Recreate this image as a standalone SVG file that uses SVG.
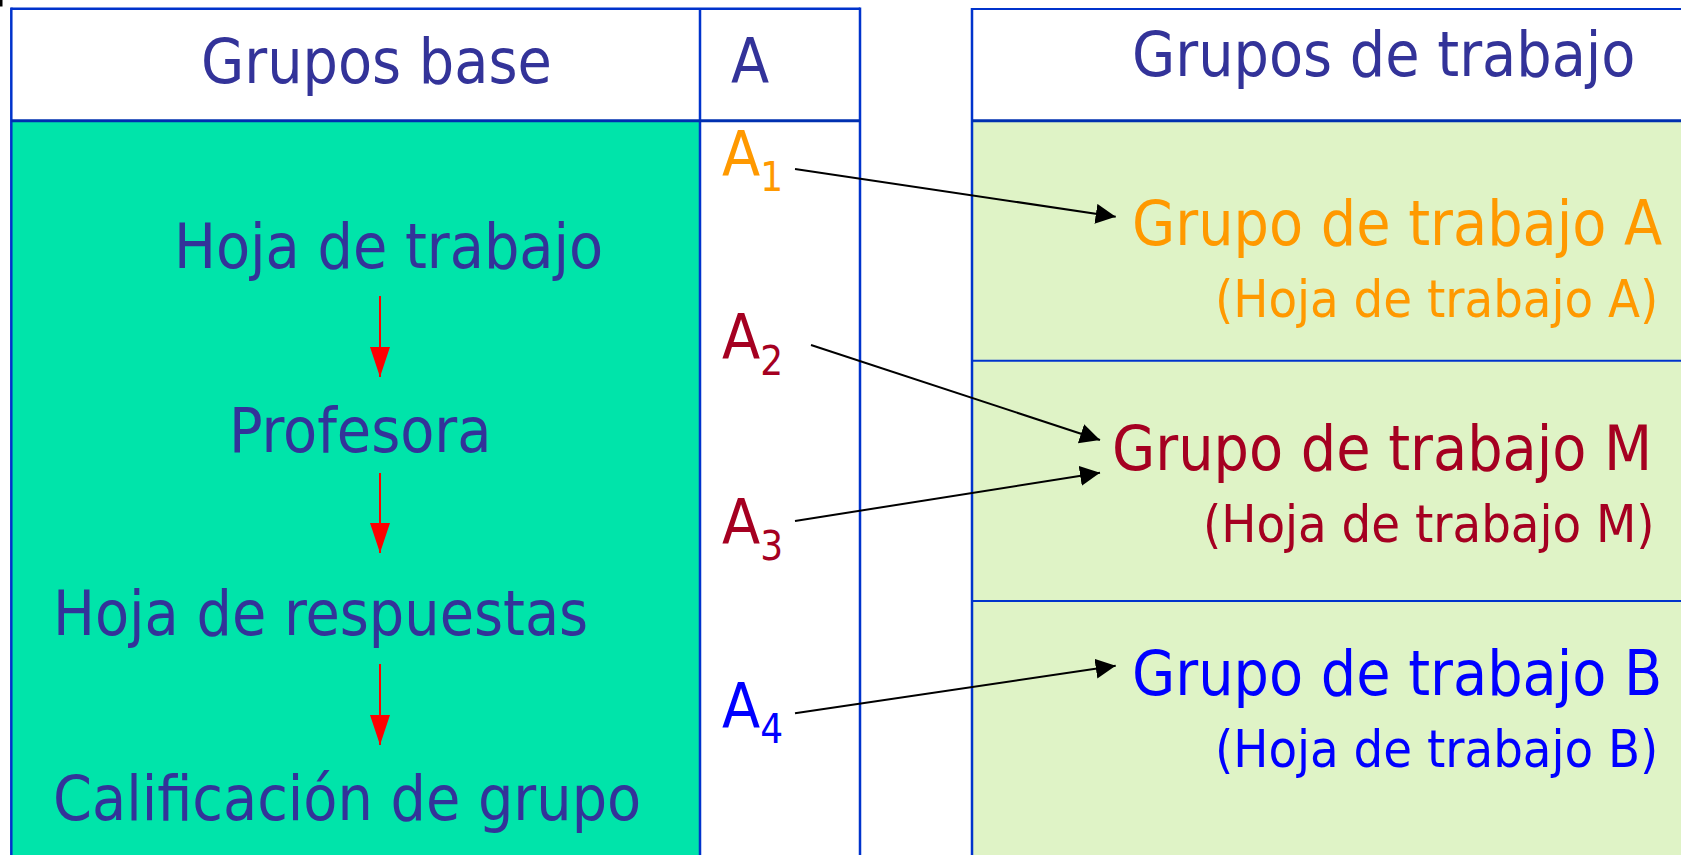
<svg xmlns="http://www.w3.org/2000/svg" width="1681" height="855" viewBox="0 0 1681 855">
<style>
text{font-family:"DejaVu Sans Condensed","DejaVu Sans",sans-serif;font-stretch:condensed;}
.big{font-size:62px;}
.sub{font-size:52px;}
.idx{font-size:40px;}
.hdr{fill:#333399;}
.lt{fill:#333399;}
.org{fill:#FF9900;}
.red{fill:#A50021;}
.blu{fill:#0000FF;}
.bl{stroke:#0033CC;stroke-width:2.5;fill:none;}
.bl2{stroke:#0030B0;stroke-width:3;fill:none;}
.conn{stroke:#000;stroke-width:2;fill:none;marker-end:url(#ah);}
.rconn{stroke:#FF0000;stroke-width:2;fill:none;marker-end:url(#rh);}
</style>
<defs>
<marker id="ah" markerUnits="userSpaceOnUse" markerWidth="22" markerHeight="22" refX="20" refY="10" orient="auto" viewBox="0 0 22 22">
<path d="M0,0 L20,10 L0,20 z" fill="#000"/>
</marker>
<marker id="rh" markerUnits="userSpaceOnUse" markerWidth="32" markerHeight="22" refX="30" refY="10" orient="auto" viewBox="0 0 32 22">
<path d="M0,0 L30,10 L0,20 z" fill="#FF0000"/>
</marker>
</defs>
<rect x="0" y="0" width="1681" height="855" fill="#FFFFFF"/>
<rect x="0" y="0" width="2.5" height="6.5" fill="#000"/>

<g id="left-table">
<rect x="11" y="121" width="689" height="740" fill="#00E4AA"/>
<line class="bl" x1="11.3" y1="8.7" x2="860" y2="8.7"/>
<line class="bl" x1="11.3" y1="7.5" x2="11.3" y2="855"/>
<line class="bl" x1="860" y1="7.5" x2="860" y2="855"/>
<line class="bl" x1="700" y1="8.7" x2="700" y2="855"/>
<line class="bl2" x1="11.3" y1="120.7" x2="860" y2="120.7"/>
</g>

<g id="right-table">
<rect x="972" y="121" width="709" height="740" fill="#DFF3C6"/>
<line class="bl" x1="972" y1="9" x2="1681" y2="9" style="stroke-width:1.8"/>
<line class="bl" x1="972" y1="8" x2="972" y2="855"/>
<line class="bl2" x1="972" y1="120.7" x2="1681" y2="120.7"/>
<line class="bl" x1="972" y1="360.7" x2="1681" y2="360.7" style="stroke-width:2"/>
<line class="bl" x1="972" y1="601" x2="1681" y2="601" style="stroke-width:2"/>
</g>

<g id="header-grupos-base"><text class="big hdr" x="201" y="83">Grupos base</text></g>
<g id="header-a"><text class="big hdr" x="731" y="83">A</text></g>
<g id="header-grupos-trabajo"><text class="big hdr" x="1132" y="76">Grupos de trabajo</text></g>

<g id="hoja-trabajo"><text class="big lt" x="174" y="268">Hoja de trabajo</text></g>
<g id="profesora"><text class="big lt" x="229" y="452">Profesora</text></g>
<g id="hoja-respuestas"><text class="big lt" x="53" y="635">Hoja de respuestas</text></g>
<g id="calificacion"><text class="big lt" x="53" y="820">Calificación de grupo</text></g>

<g id="a1"><text class="big org" x="722" y="176">A<tspan class="idx" dy="15">1</tspan></text></g>
<g id="a2"><text class="big red" x="722" y="359">A<tspan class="idx" dy="16">2</tspan></text></g>
<g id="a3"><text class="big red" x="722" y="544">A<tspan class="idx" dy="16">3</tspan></text></g>
<g id="a4"><text class="big blu" x="722" y="728">A<tspan class="idx" dy="15">4</tspan></text></g>

<g id="grupo-a">
<text class="big org" x="1132" y="245">Grupo de trabajo A</text>
<text class="sub org" x="1215" y="317">(Hoja de trabajo A)</text>
</g>
<g id="grupo-m">
<text class="big red" x="1112" y="470">Grupo de trabajo M</text>
<text class="sub red" x="1203" y="542">(Hoja de trabajo M)</text>
</g>
<g id="grupo-b">
<text class="big blu" x="1132" y="695">Grupo de trabajo B</text>
<text class="sub blu" x="1215" y="767">(Hoja de trabajo B)</text>
</g>

<g id="connectors">
<line class="rconn" x1="380" y1="296" x2="380" y2="377"/>
<line class="rconn" x1="380" y1="473" x2="380" y2="553"/>
<line class="rconn" x1="380" y1="664" x2="380" y2="745"/>
<line class="conn" x1="795" y1="169" x2="1115.7" y2="216.7"/>
<line class="conn" x1="811" y1="345" x2="1100" y2="440"/>
<line class="conn" x1="795" y1="521" x2="1100" y2="472.7"/>
<line class="conn" x1="795" y1="713.3" x2="1115.7" y2="665.7"/>
</g>
</svg>
